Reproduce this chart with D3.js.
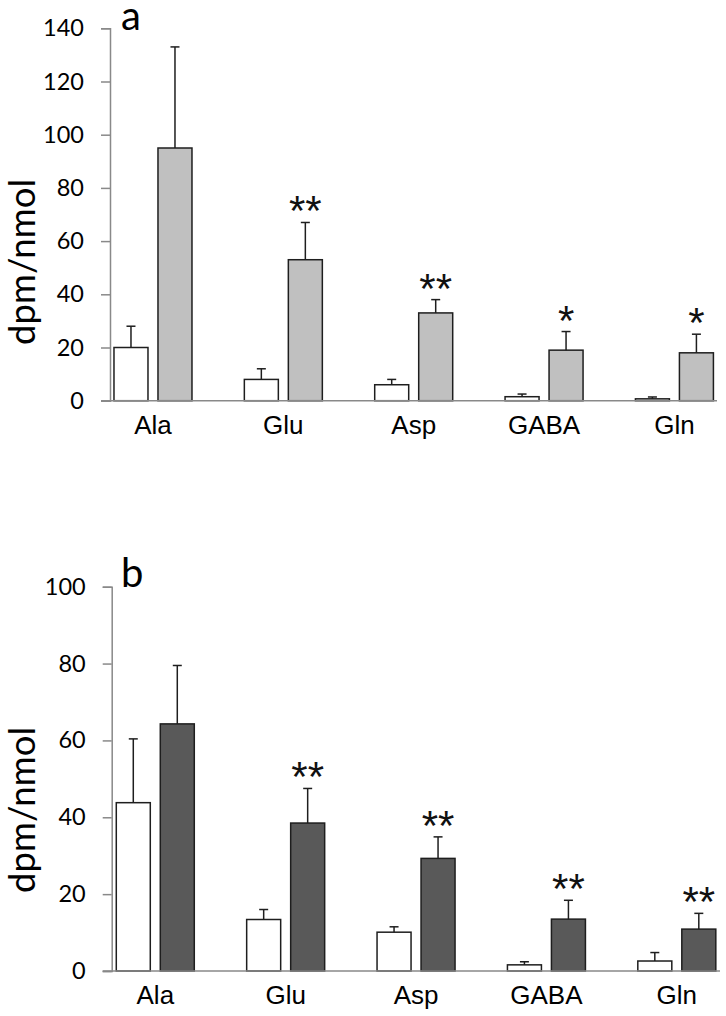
<!DOCTYPE html>
<html>
<head>
<meta charset="utf-8">
<script src="https://cdn.jsdelivr.net/npm/d3@7"></script>
<style>
  html, body { margin: 0; padding: 0; background: #fff; }
  svg { display: block; }
</style>
</head>
<body>
<svg id="chart" width="726" height="1016"></svg>
<script>
// ---- data ----
const categories = ["Ala", "Glu", "Asp", "GABA", "Gln"];

const aTicks = [0, 20, 40, 60, 80, 100, 120, 140];
const aWhite = [20, 8, 6, 1.5, 0.7];
const aWhiteErr = [8, 4, 2, 1, 0.7];
const aGrey = [95, 53, 33, 19, 18];
const aGreyErr = [38, 14, 5, 7, 7];
const aStars = ["", "**", "**", "*", "*"];

const bTicks = [0, 20, 40, 60, 80, 100];
const bWhite = [43.8, 13.4, 10.1, 1.6, 2.6];
const bWhiteErr = [16.6, 2.6, 1.4, 0.8, 2.2];
const bDark = [64.3, 38.5, 29.3, 13.5, 10.9];
const bDarkErr = [15.2, 9.0, 5.6, 4.9, 4.1];
const bStars = ["", "**", "**", "**", "**"];

const yLabel = "dpm/nmol";

// ---- drawing ----
const svg = d3.select("#chart");
const AXIS_COLOR = "#898989";

function drawPanel(cfg) {
  const g = svg.append("g");
  const y = d3.scaleLinear().domain(cfg.domain).range([cfg.y0, cfg.y1]);
  const x0 = d3.scaleBand().domain(categories).range(cfg.xRange).padding(0);
  const x1 = d3.scaleBand().domain([0, 1]).range([-39, 39]).paddingInner(10 / 44).paddingOuter(0);
  const step = x0.bandwidth();
  const cx = c => x0(c) + step / 2;

  // y axis
  const yAxis = d3.axisLeft(y).tickValues(cfg.ticks).tickSize(9).tickSizeOuter(9).tickPadding(17)
    .tickFormat(d3.format("d"));
  const ya = g.append("g").attr("transform", `translate(${cfg.axisX},0)`).call(yAxis);
  ya.selectAll("path, line").attr("stroke", AXIS_COLOR).attr("stroke-width", 1.5);
  ya.selectAll("text").attr("font-family", "Lato, 'Open Sans', sans-serif")
    .attr("font-size", 23.5).attr("fill", "#000");

  // bars
  const series = [
    { vals: cfg.white, errs: cfg.whiteErr, fill: "#ffffff", idx: 0 },
    { vals: cfg.other, errs: cfg.otherErr, fill: cfg.otherFill, idx: 1 }
  ];
  series.forEach(s => {
    const data = categories.map((c, i) => ({ c, v: s.vals[i], e: s.errs[i] }));
    const bg = g.append("g");
    bg.selectAll("rect").data(data).join("rect")
      .attr("x", d => cx(d.c) + x1(s.idx))
      .attr("width", x1.bandwidth())
      .attr("y", d => y(d.v))
      .attr("height", d => y(0) - y(d.v))
      .attr("fill", s.fill)
      .attr("stroke", "#1e1e1e")
      .attr("stroke-width", 1.5);
    // error bars (upper only)
    bg.selectAll("line.err").data(data).join("line").attr("class", "err")
      .attr("x1", d => cx(d.c) + x1(s.idx) + x1.bandwidth() / 2)
      .attr("x2", d => cx(d.c) + x1(s.idx) + x1.bandwidth() / 2)
      .attr("y1", d => y(d.v))
      .attr("y2", d => y(d.v + d.e))
      .attr("stroke", "#1e1e1e").attr("stroke-width", 1.5);
    bg.selectAll("line.cap").data(data).join("line").attr("class", "cap")
      .attr("x1", d => cx(d.c) + x1(s.idx) + x1.bandwidth() / 2 - 4.5)
      .attr("x2", d => cx(d.c) + x1(s.idx) + x1.bandwidth() / 2 + 4.5)
      .attr("y1", d => y(d.v + d.e))
      .attr("y2", d => y(d.v + d.e))
      .attr("stroke", "#1e1e1e").attr("stroke-width", 1.5);
  });

  // stars
  g.append("g").selectAll("text").data(categories.map((c, i) => ({
      c, s: cfg.stars[i], top: cfg.other[i] + cfg.otherErr[i] })))
    .join("text")
    .attr("x", d => cx(d.c) + x1(1) + x1.bandwidth() / 2)
    .attr("y", d => y(d.top) - 21 + 24)
    .attr("text-anchor", "middle")
    .attr("font-family", "'Liberation Sans', Arial, sans-serif")
    .attr("font-size", 42)
    .attr("fill", "#111")
    .text(d => d.s);

  // x axis baseline
  g.append("line")
    .attr("x1", cfg.axisX - 9).attr("x2", cfg.xEnd)
    .attr("y1", y(0)).attr("y2", y(0))
    .attr("stroke", AXIS_COLOR).attr("stroke-width", 1.5);

  // category labels
  const xAxis = d3.axisBottom(x0).tickSize(0).tickPadding(14.8);
  const xa = g.append("g").attr("transform", `translate(0,${y(0)})`).call(xAxis);
  xa.select(".domain").remove();
  xa.selectAll("text").attr("font-family", "'Liberation Sans', Arial, sans-serif")
    .attr("font-size", 26).attr("fill", "#000");

  // y label
  const yl = g.append("text")
    .attr("transform", `translate(35,${cfg.labelY}) rotate(-90)`)
    .attr("text-anchor", "middle")
    .attr("font-family", "Lato, 'Open Sans', sans-serif")
    .attr("font-size", 34)
    .attr("fill", "#000")
    .text(yLabel);
  const len = yl.node().getComputedTextLength();
  if (len > 0) yl.attr("font-size", 34 * 166 / len);

  // panel letter
  g.append("text")
    .attr("x", 121).attr("y", cfg.letterY)
    .attr("font-family", "Lato, 'Open Sans', sans-serif")
    .attr("font-size", 40)
    .attr("fill", "#000")
    .text(cfg.letter);
}

drawPanel({
  domain: [0, 140], ticks: aTicks, y0: 400.7, y1: 28.3,
  axisX: 110, xRange: [87.8, 739.6], xEnd: 717,
  white: aWhite, whiteErr: aWhiteErr, other: aGrey, otherErr: aGreyErr,
  otherFill: "#c0c0c0", stars: aStars,
  labelY: 262, letter: "a", letterY: 29.5
});

drawPanel({
  domain: [0, 100], ticks: bTicks, y0: 971, y1: 586.7,
  axisX: 111.7, xRange: [90.1, 742.0], xEnd: 720,
  white: bWhite, whiteErr: bWhiteErr, other: bDark, otherErr: bDarkErr,
  otherFill: "#595959", stars: bStars,
  labelY: 810, letter: "b", letterY: 587
});
</script>
</body>
</html>
